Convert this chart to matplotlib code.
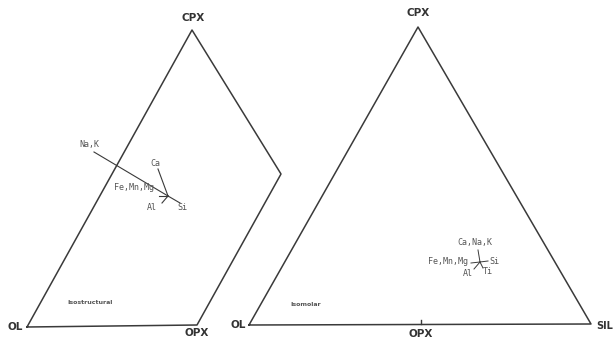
import matplotlib
matplotlib.use("Agg")
import matplotlib.pyplot as plt

# left diagram (isostructural), coordinates in picture units
left_outline_x = [27, 197, 281, 192, 27]
left_outline_y = [327, 325, 174, 30, 327]
left_center = (168, 196)
# vector ends from the common point
left_ends = {
    "Na,K": (94, 152),
    "Si": (180, 203),
    "Ca": (158, 169),
    "Fe,Mn,Mg": (159, 196),
    "Al": (162, 203),
}
left_labels = {
    "Na,K": (89, 145),
    "Ca": (155, 163),
    "Fe,Mn,Mg": (134, 187),
    "Al": (152, 208),
    "Si": (182, 208),
}

# right diagram (isomolar)
right_outline_x = [249, 591, 418, 249]
right_outline_y = [325, 324, 27, 325]
opx_tick_x = [421, 421]
opx_tick_y = [324, 320]
right_center = (480, 262)
right_ends = {
    "Ca,Na,K": (478, 250),
    "Fe,Mn,Mg": (471, 263),
    "Si": (488, 261),
    "Al": (474, 269),
    "Ti": (483, 268),
}
right_labels = {
    "Ca,Na,K": (475, 243),
    "Fe,Mn,Mg": (448, 262),
    "Si": (494, 262),
    "Al": (468, 274),
    "Ti": (488, 272),
}

line_col = "#3a3a3a"
small = dict(fontsize=6, family="DejaVu Sans Mono", ha="center", va="center", color="#555555")

fig = plt.figure(figsize=(6.13, 3.38), dpi=100)
ax = fig.add_axes([0, 0, 1, 1])
ax.set_xlim(0, 613)
ax.set_ylim(338, 0)
ax.axis("off")

ax.plot(left_outline_x, left_outline_y, color=line_col, lw=1.1)
for k, (x, y) in left_ends.items():
    ax.plot([left_center[0], x], [left_center[1], y], color=line_col, lw=0.8)
for k, (x, y) in left_labels.items():
    ax.text(x, y, k, **small)

ax.plot(right_outline_x, right_outline_y, color=line_col, lw=1.1)
ax.plot(opx_tick_x, opx_tick_y, color=line_col, lw=1.0)
for k, (x, y) in right_ends.items():
    ax.plot([right_center[0], x], [right_center[1], y], color=line_col, lw=0.7)
for k, (x, y) in right_labels.items():
    ax.text(x, y, k, **small)

corner = dict(fontsize=7.5, fontweight="bold", ha="center", va="center", color="#333333")
ax.text(193, 18, "CPX", **corner)
ax.text(15, 327, "OL", **corner)
ax.text(197, 333, "OPX", **corner)
ax.text(418, 13, "CPX", **corner)
ax.text(238, 325, "OL", **corner)
ax.text(421, 334, "OPX", **corner)
ax.text(596, 326, "SIL", fontsize=7, fontweight="bold", ha="left", va="center", color="#333333")

ax.text(90, 303, "Isostructural", fontsize=4.5, fontweight="bold", ha="center", va="center", color="#555555")
ax.text(306, 304, "Isomolar", fontsize=4.5, fontweight="bold", ha="center", va="center", color="#555555")

fig.savefig("out.png", dpi=100)
